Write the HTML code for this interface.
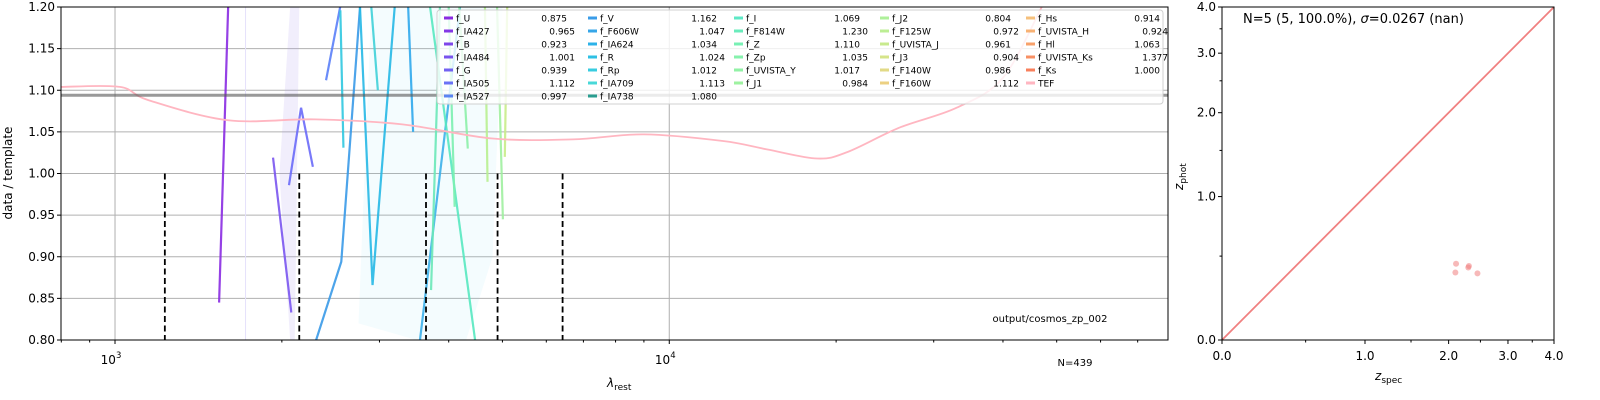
<!DOCTYPE html>
<html><head><meta charset="utf-8"><style>
html,body{margin:0;padding:0;background:#fff;}
svg{display:block;font-family:"DejaVu Sans","Liberation Sans",sans-serif;}
</style></head><body>
<svg id="c" width="1600" height="400" viewBox="0 0 1600 400" xmlns="http://www.w3.org/2000/svg"></svg>
<script>
// ---- data: left panel ----
const yTicks=[0.80,0.85,0.90,0.95,1.00,1.05,1.10,1.15,1.20];
const xMajor=[1000,10000];
const xMajorLabels=["3","4"];
const dashedLam=[1230,2150,3640,4900,6420];
const tefLam=[800,1020,1150,1600,2300,3300,4800,6700,9000,12500,15000,18500,21000,26000,33000,40000,47000];
const tefVal=[1.104,1.104,1.088,1.064,1.065,1.059,1.042,1.041,1.047,1.039,1.029,1.018,1.026,1.055,1.079,1.115,1.2];
const hLineVal=1.094;
const segNames=["f_U","f_IA484","f_G","f_IA505","f_V","f_R","f_Rp","f_IA624","f_I","f_F814W","f_Z","f_Zp","f_J1","f_J2","f_UVISTA_J","f_IA709","f_F606W"];
const segColors=["#8a2be2","#7a55f0","#6a6af8","#5a80f8","#3a9ae8","#26b8e6","#30c8e0","#3cb0ea","#58e8c0","#6ae8b8","#7cefb0","#8cf0a8","#a0f0a0","#b8f090","#c8ec88","#40d0d8","#30a8ec"];
const segLam=[[1541,1600],[1928,2080],[2060,2166,2275],[2403,2548],[2306,2560,2767],[2767,2915,3196],[2550,2583],[3550,4193],[3702,4463],[3717,3857],[4000,4100],[4180,4330],[5010,4890],[4650,4700],[5100,5050],[2900,2980],[3380,3450]];
const segVal=[[0.845,1.2],[1.019,0.833],[0.986,1.079,1.008],[1.112,1.2],[0.8,0.894,1.2],[1.2,0.866,1.2],[1.196,1.031],[0.8,1.2],[1.2,0.8],[0.86,1.2],[1.2,0.96],[1.2,1.03],[0.945,1.2],[1.2,0.99],[1.2,1.02],[1.2,1.10],[1.2,1.05]];
// ---- legend ----
const legNames=["f_U","f_IA427","f_B","f_IA484","f_G","f_IA505","f_IA527","f_V","f_F606W","f_IA624","f_R","f_Rp","f_IA709","f_IA738","f_I","f_F814W","f_Z","f_Zp","f_UVISTA_Y","f_J1","f_J2","f_F125W","f_UVISTA_J","f_J3","f_F140W","f_F160W","f_Hs","f_UVISTA_H","f_Hl","f_UVISTA_Ks","f_Ks","TEF"];
const legVals=["0.875","0.965","0.923","1.001","0.939","1.112","0.997","1.162","1.047","1.034","1.024","1.012","1.113","1.080","1.069","1.230","1.110","1.035","1.017","0.984","0.804","0.972","0.961","0.904","0.986","1.112","0.914","0.924","1.063","1.377","1.000",""];
const legColors=["#8a2be2","#8438e6","#7e46ea","#7854ee","#7262f2","#6a72f6","#5a84f2","#3a9ce8","#36a6e8","#2cb2e8","#2ec0e4","#38cce0","#48d8d8","#2a9d8f","#5ee8c6","#6aecbc","#78f0b4","#86f2ac","#92f2a6","#9ef2a0","#aef09a","#bcee94","#c8ea8e","#d6e48a","#e2da86","#ecd082","#f6c07c","#f8b274","#f8a06a","#f89064","#f8805c","#ffb6c1"];
const legColSizes=[7,7,6,6,6];
// ---- right panel ----
const zTicks=[0,1,2,3,4];
const zMinor=[0.5,1.5,2.5,3.5];
const zSpec=[2.11,2.31,2.30,2.10,2.45];
const zPhot=[0.446,0.43,0.42,0.386,0.38];

const NS="http://www.w3.org/2000/svg";
const svg=document.getElementById('c');
function el(t,a,p){const e=document.createElementNS(NS,t);for(const k in a)e.setAttribute(k,a[k]);(p||svg).appendChild(e);return e;}
const L={x0:61,x1:1168,y0:7,y1:340};
const lmin=Math.log10(799),lmax=Math.log10(79400);
const X=l=>L.x0+(Math.log10(l)-lmin)/(lmax-lmin)*(L.x1-L.x0);
const Y=v=>L.y1-(v-0.8)/0.4*(L.y1-L.y0);
const clipL=el('clipPath',{id:'cl'});el('rect',{x:L.x0,y:L.y0,width:L.x1-L.x0,height:L.y1-L.y0},clipL);
const gL=el('g',{'clip-path':'url(#cl)'});

yTicks.forEach(v=>{const g=el('line',{x1:L.x0,x2:L.x1,y1:Y(v),y2:Y(v),stroke:'#b0b0b0','stroke-width':1},gL);});
xMajor.forEach(l=>{const g=el('line',{x1:X(l),x2:X(l),y1:L.y0,y2:L.y1,stroke:'#b0b0b0','stroke-width':1},gL);});
// shaded bands
el('polygon',{points:`${X(1980)},${Y(1.0)} ${X(2070)},${Y(0.8)} ${X(2110)},${Y(0.8)} ${X(2150)},${Y(1.2)} ${X(2070)},${Y(1.2)}`,fill:'#b0a0f0','fill-opacity':0.18},gL);
el('polygon',{points:`${X(2750)},${Y(0.82)} ${X(2900)},${Y(1.2)} ${X(5000)},${Y(1.2)} ${X(4800)},${Y(0.9)} ${X(4300)},${Y(0.8)} ${X(3500)},${Y(0.8)}`,fill:'#80e0f0','fill-opacity':0.09},gL);
el('line',{x1:X(1720),x2:X(1720),y1:Y(1.2),y2:Y(0.8),stroke:'#e4e0fb','stroke-width':1},gL);
segLam.forEach((ls,i)=>{const pts=ls.map((l,j)=>X(l)+','+Y(segVal[i][j])).join(' ');
 const p=el('polyline',{points:pts,fill:'none',stroke:segColors[i],'stroke-width':2.2,'stroke-opacity':0.9},gL);
 });
// TEF smooth (catmull-rom)
{const P=tefLam.map((l,i)=>[X(l),Y(tefVal[i])]);let d='M'+P[0][0]+','+P[0][1];
 for(let i=0;i<P.length-1;i++){const p0=P[i-1]||P[i],p1=P[i],p2=P[i+1],p3=P[i+2]||p2;
  d+=` C${p1[0]+(p2[0]-p0[0])/6},${p1[1]+(p2[1]-p0[1])/6} ${p2[0]-(p3[0]-p1[0])/6},${p2[1]-(p3[1]-p1[1])/6} ${p2[0]},${p2[1]}`;}
 const p=el('path',{d:d,fill:'none',stroke:'#ffb6c1','stroke-width':1.8},gL);
 }
{const h=el('line',{x1:L.x0,x2:L.x1,y1:Y(hLineVal),y2:Y(hLineVal),stroke:'#555','stroke-width':3,'stroke-opacity':0.6},gL);
}
dashedLam.forEach(l=>{const d=el('line',{x1:X(l),x2:X(l),y1:Y(1.0),y2:L.y1,stroke:'#000','stroke-width':1.8,'stroke-dasharray':'6,3.5'},gL);});
{const f=el('rect',{x:L.x0,y:L.y0,width:L.x1-L.x0,height:L.y1-L.y0,fill:'none',stroke:'#000','stroke-width':1});}
yTicks.forEach(v=>{el('line',{x1:L.x0-4,x2:L.x0,y1:Y(v),y2:Y(v),stroke:'#000'});
 const t=el('text',{x:L.x0-6,y:Y(v)+4,'text-anchor':'end','font-size':12});t.textContent=v.toFixed(2);});
for(let d=2;d<=4;d++)for(let m=1;m<10;m++){const l=m*Math.pow(10,d);const x=X(l);if(x<L.x0||x>L.x1)continue;el('line',{x1:x,x2:x,y1:L.y1,y2:L.y1+(m==1?4:2.5),stroke:'#000'});}
xMajor.forEach((l,i)=>{const t=el('text',{x:X(l)-4,y:364,'text-anchor':'middle','font-size':12});t.textContent='10';const s=el('tspan',{dy:-6,'font-size':8.5},t);s.textContent=xMajorLabels[i];});
{const t=el('text',{x:607,y:387,'font-size':12,'font-style':'italic'});t.textContent='λ';const s=el('tspan',{dy:3,'font-size':9,'font-style':'normal'},t);s.textContent='rest';}
{const t=el('text',{transform:'translate(12,173) rotate(-90)','text-anchor':'middle','font-size':12});t.textContent='data / template';}
{const t=el('text',{x:1050,y:322,'text-anchor':'middle','font-size':10});t.textContent='output/cosmos_zp_002';}
{const t=el('text',{x:1075,y:366,'text-anchor':'middle','font-size':10});t.textContent='N=439';}
// legend
{const g=el('g',{});
 el('rect',{x:437,y:10,width:726,height:94,rx:3,fill:'#fff','fill-opacity':0.8,stroke:'#d0d0d0'},g);
 const colX=[444,588,734,880,1026],valR=[567,717,860,1011,1160];
 let c=0,r=0;
 legNames.forEach((n,i)=>{if(r>=legColSizes[c]){c++;r=0;}const y=18+r*13;
  const e=el('g',{},g);
  el('line',{x1:colX[c],x2:colX[c]+9,y1:y,y2:y,stroke:legColors[i],'stroke-width':3},e);
  const t=el('text',{x:colX[c]+12,y:y+3.5,'font-size':9},e);t.textContent=n;
  const v=el('text',{x:valR[c]+((r%2)?8:0),y:y+3.5,'font-size':9,'text-anchor':'end'},e);v.textContent=legVals[i];
  r++;});}
// right panel
const R={x0:1222,x1:1554,y0:7,y1:340};
const f=z=>Math.log(1+z)/Math.log(5);
const RX=z=>R.x0+f(z)*(R.x1-R.x0), RY=z=>R.y1-f(z)*(R.y1-R.y0);
{const l=el('line',{x1:RX(0),y1:RY(0),x2:RX(4),y2:RY(4),stroke:'#f08080','stroke-width':1.8});}
zSpec.forEach((z,i)=>{const c=el('circle',{cx:RX(z),cy:RY(zPhot[i]),r:3,fill:'#f08080','fill-opacity':0.55});});
{const fr=el('rect',{x:R.x0,y:R.y0,width:R.x1-R.x0,height:R.y1-R.y0,fill:'none',stroke:'#000'});}
zTicks.forEach(z=>{el('line',{x1:RX(z),x2:RX(z),y1:R.y1,y2:R.y1+4,stroke:'#000'});el('line',{x1:R.x0-4,x2:R.x0,y1:RY(z),y2:RY(z),stroke:'#000'});
 const a=el('text',{x:RX(z),y:360,'text-anchor':'middle','font-size':12});a.textContent=z.toFixed(1);
 const b=el('text',{x:R.x0-6,y:RY(z)+4,'text-anchor':'end','font-size':12});b.textContent=z.toFixed(1);});
zMinor.forEach(z=>{el('line',{x1:RX(z),x2:RX(z),y1:R.y1,y2:R.y1+2.5,stroke:'#000'});el('line',{x1:R.x0-2.5,x2:R.x0,y1:RY(z),y2:RY(z),stroke:'#000'});});
{const t=el('text',{x:1243,y:23,'font-size':13});t.innerHTML='N=5 (5, 100.0%), <tspan font-style="italic">σ</tspan>=0.0267 (nan)';}
{const t=el('text',{x:1375,y:380,'font-size':12,'font-style':'italic'});t.textContent='z';const s=el('tspan',{dy:3,'font-size':9,'font-style':'normal'},t);s.textContent='spec';}
{const t=el('text',{transform:'translate(1183,190) rotate(-90)','font-size':12,'font-style':'italic'});t.textContent='z';const s=el('tspan',{dy:3,'font-size':9,'font-style':'normal'},t);s.textContent='phot';}
</script>
</body></html>
